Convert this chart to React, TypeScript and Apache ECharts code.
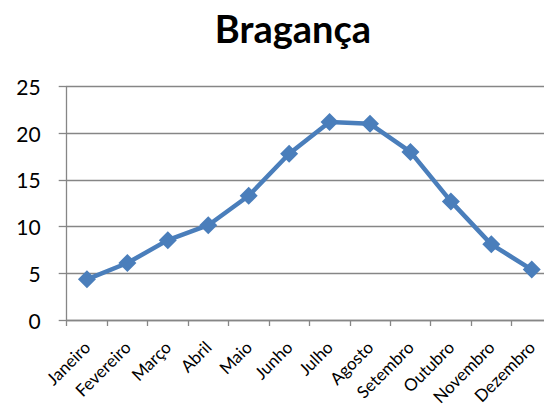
import React, { useEffect, useRef } from "react";
import * as echarts from "echarts";

const title = "Bragança";
const months = ["Janeiro", "Fevereiro", "Março", "Abril", "Maio", "Junho", "Julho", "Agosto", "Setembro", "Outubro", "Novembro", "Dezembro"];
const temps = [4.35, 6.1, 8.55, 10.15, 13.3, 17.8, 21.2, 21.0, 18.0, 12.7, 8.1, 5.4];
const yTicks = { min: 0, max: 25, interval: 5 };

export default function App() {
  const ref = useRef<HTMLDivElement>(null);
  useEffect(() => {
    if (!ref.current) return;
    const chart = echarts.init(ref.current, null, { renderer: "svg" });
    const font = "Lato, 'Open Sans', sans-serif";
    chart.setOption({
      animation: false,
      backgroundColor: "#ffffff",
      title: {
        text: title,
        left: 288,
        textAlign: "center",
        top: 4,
        textStyle: { fontFamily: font, fontWeight: "bold", fontSize: 38, color: "#000" },
      },
      grid: { left: 66.7, right: 0, top: 86.5, bottom: 90 },
      xAxis: {
        type: "category",
        data: months,
        boundaryGap: true,
        axisLine: { lineStyle: { color: "#868686", width: 1.3 } },
        axisTick: { show: true, length: 6, alignWithLabel: false, lineStyle: { color: "#868686", width: 1.3 } },
        axisLabel: { rotate: 45, interval: 0, margin: 24, fontFamily: font, fontSize: 17, color: "#000" },
        splitLine: { show: false },
      },
      yAxis: {
        type: "value",
        min: yTicks.min,
        max: yTicks.max,
        interval: yTicks.interval,
        axisLine: { show: true, lineStyle: { color: "#868686", width: 1.3 } },
        axisTick: { show: true, length: 8, lineStyle: { color: "#868686", width: 1.3 } },
        axisLabel: { margin: 26, fontFamily: font, fontSize: 21, color: "#000" },
        splitLine: { show: true, lineStyle: { color: "#868686", width: 1.3 } },
      },
      series: [
        {
          type: "line",
          data: temps,
          symbol: "diamond",
          symbolSize: 18,
          lineStyle: { color: "#4a7ebb", width: 4.5 },
          itemStyle: { color: "#4a7ebb" },
        },
      ],
    });
    return () => chart.dispose();
  }, []);
  return (
    <div style={{ width: 544, height: 410, position: "absolute", left: 0, top: 0, overflow: "hidden" }}>
      <div ref={ref} style={{ width: 552, height: 410 }} />
    </div>
  );
}
